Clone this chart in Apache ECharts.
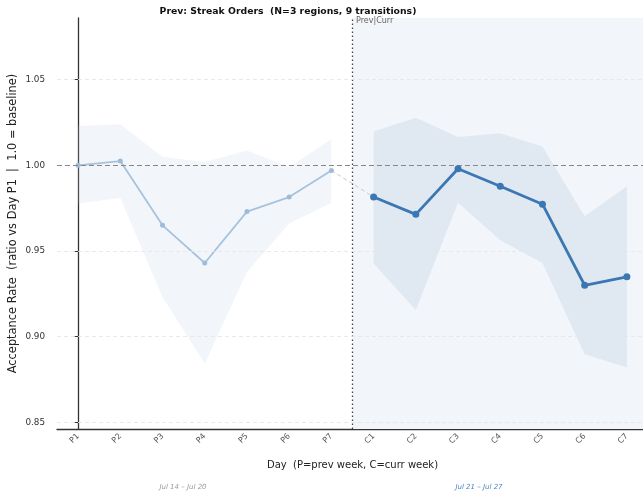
<!DOCTYPE html>
<html>
<head>
<meta charset="utf-8">
<script src="https://cdn.jsdelivr.net/npm/echarts@6/dist/echarts.min.js"></script>
<style>
  html, body { margin: 0; padding: 0; background: #fff; }
  #chart { width: 643px; height: 498px; }
</style>
</head>
<body>
<div id="chart"></div>
<script>
// day labels
const days = ['P1', 'P2', 'P3', 'P4', 'P5', 'P6', 'P7', 'C1', 'C2', 'C3', 'C4', 'C5', 'C6', 'C7'];
// prev week (mean + band)
const prevMean = [1.000, 1.0025, 0.965, 0.943, 0.973, 0.9815, 0.997];
const prevHigh = [1.023, 1.024, 1.005, 1.002, 1.0087, 0.999, 1.0152];
const prevLow = [0.9777, 0.981, 0.923, 0.8844, 0.9378, 0.966, 0.978];
// curr week (mean + band)
const currMean = [0.9815, 0.9714, 0.998, 0.9878, 0.9773, 0.930, 0.9349];
const currHigh = [1.0198, 1.0278, 1.0165, 1.0188, 1.011, 0.9703, 0.9878];
const currLow = [0.9427, 0.9155, 0.9782, 0.9563, 0.943, 0.8898, 0.882];
const yTicks = [0.85, 0.90, 0.95, 1.00, 1.05];
const weekRanges = ['Jul 14 \u2013 Jul 20', 'Jul 21 \u2013 Jul 27'];

const nPrev = prevMean.length;
const split = nPrev - 0.5; // boundary between P7 and C1
const pad = (arr, before, after) =>
  Array(before).fill(null).concat(arr, Array(after).fill(null));

const chart = echarts.init(document.getElementById('chart'));

const option = {
  animation: false,
  backgroundColor: '#fff',
  title: {
    text: 'Prev: Streak Orders  (N=3 regions, 9 transitions)',
    left: 283,
    textAlign: 'center',
    top: 2,
    textStyle: { fontFamily: 'DejaVu Sans', fontSize: 9.3, fontWeight: 'bold', color: '#111' }
  },
  grid: { left: 57, right: -5, top: 18, bottom: 69, containLabel: false, outerBoundsMode: 'none' },
  xAxis: [
    {
      type: 'category',
      data: days,
      boundaryGap: true,
      name: 'Day  (P=prev week, C=curr week)',
      nameLocation: 'middle',
      nameGap: 31,
      nameMoveOverlap: false,
      nameTextStyle: { fontFamily: 'DejaVu Sans', fontSize: 10, color: '#222' },
      axisLine: { lineStyle: { color: '#333', width: 1.3 } },
      axisTick: { alignWithLabel: true, length: 4, lineStyle: { color: '#333' } },
      axisLabel: { rotate: 45, fontFamily: 'DejaVu Sans', fontSize: 8, color: '#555', margin: 6 },
      splitLine: { show: false }
    },
    {
      type: 'value',
      min: -0.5,
      max: days.length - 0.5,
      show: false
    }
  ],
  yAxis: {
    type: 'value',
    min: 0.8461,
    max: 1.086,
    name: 'Acceptance Rate  (ratio vs Day P1  |  1.0 = baseline)',
    nameLocation: 'middle',
    nameGap: 38,
    nameMoveOverlap: false,
    nameTextStyle: { fontFamily: 'DejaVu Sans', fontSize: 11.4, color: '#222' },
    axisLine: { show: true, lineStyle: { color: '#333', width: 1.3 } },
    axisTick: { show: true, length: 4, customValues: yTicks, lineStyle: { color: '#333' } },
    axisLabel: {
      customValues: yTicks,
      formatter: v => v.toFixed(2),
      fontFamily: 'DejaVu Sans', fontSize: 8.8, color: '#333', margin: 12
    },
    splitLine: { show: false }
  },
  series: [
    // curr-week shading + divider
    {
      type: 'line',
      xAxisIndex: 1,
      data: [[split, 1.0]],
      symbol: 'none',
      silent: true,
      z: 0,
      markArea: {
        silent: true,
        itemStyle: { color: '#f2f6fa' },
        data: [[{ xAxis: split }, { xAxis: days.length - 0.5 }]]
      },
      markLine: {
        silent: true,
        symbol: 'none',
        label: { show: false },
        data: [
          { xAxis: split, lineStyle: { color: '#444', type: [1.5, 2.5], width: 1.3 } }
        ]
      }
    },
    // gridlines + baseline
    {
      type: 'line',
      xAxisIndex: 1,
      data: [[0, 1.0]],
      symbol: 'none',
      silent: true,
      z: 1,
      markLine: {
        silent: true,
        symbol: 'none',
        label: { show: false },
        data: yTicks.filter(v => v !== 1.0).map(v => ({
          yAxis: v, lineStyle: { color: '#e4e4e4', type: [4, 3], width: 0.8 }
        })).concat([
          { yAxis: 1.0, lineStyle: { color: '#888', type: [5, 3], width: 1 } }
        ])
      }
    },
    // prev band
    {
      type: 'line', stack: 'pb', data: pad(prevLow, 0, days.length - nPrev),
      symbol: 'none', lineStyle: { opacity: 0 }, silent: true, z: 2
    },
    {
      type: 'line', stack: 'pb', data: pad(prevHigh.map((v, i) => v - prevLow[i]), 0, days.length - nPrev),
      symbol: 'none', lineStyle: { opacity: 0 }, areaStyle: { color: 'rgba(190,208,228,0.28)' }, silent: true, z: 2
    },
    // curr band
    {
      type: 'line', stack: 'cb', data: pad(currLow, nPrev, 0),
      symbol: 'none', lineStyle: { opacity: 0 }, silent: true, z: 2
    },
    {
      type: 'line', stack: 'cb', data: pad(currHigh.map((v, i) => v - currLow[i]), nPrev, 0),
      symbol: 'none', lineStyle: { opacity: 0 }, areaStyle: { color: 'rgba(160,188,216,0.32)' }, silent: true, z: 2
    },
    // connector P7 -> C1
    {
      type: 'line',
      data: pad([prevMean[nPrev - 1], currMean[0]], nPrev - 1, days.length - nPrev - 1),
      symbol: 'none',
      lineStyle: { color: '#bccde0', type: [4, 3], width: 1 },
      z: 3
    },
    // prev mean
    {
      type: 'line',
      data: pad(prevMean, 0, days.length - nPrev),
      symbol: 'circle', symbolSize: 5,
      itemStyle: { color: '#9dbcd9' },
      lineStyle: { color: '#a6c2dd', width: 1.8 },
      z: 4
    },
    // curr mean
    {
      type: 'line',
      data: pad(currMean, nPrev, 0),
      symbol: 'circle', symbolSize: 7,
      itemStyle: { color: '#3b78b3' },
      lineStyle: { color: '#3b78b3', width: 2.8 },
      z: 5
    }
  ],
  graphic: [
    {
      type: 'text', left: 356, top: 17, z: 100,
      style: { text: 'Prev|Curr', font: '8px "DejaVu Sans"', fill: '#666' }
    },
    {
      type: 'text', x: 183, y: 487, z: 100,
      style: { text: weekRanges[0], font: 'italic 7px "DejaVu Sans"', fill: '#999', align: 'center', verticalAlign: 'middle' }
    },
    {
      type: 'text', x: 479, y: 487, z: 100,
      style: { text: weekRanges[1], font: 'italic 7px "DejaVu Sans"', fill: '#4a85c0', align: 'center', verticalAlign: 'middle' }
    }
  ]
};

chart.setOption(option);
</script>
</body>
</html>
